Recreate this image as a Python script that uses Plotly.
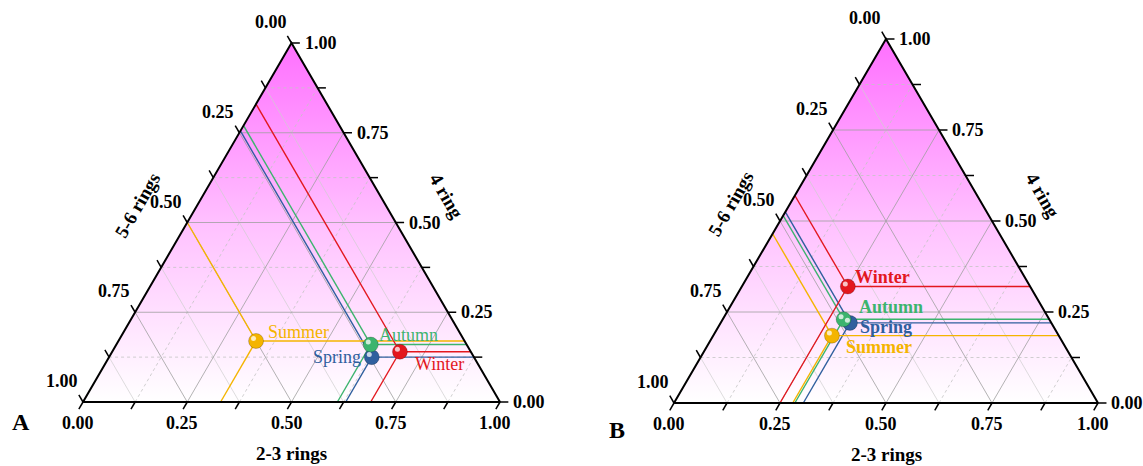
import plotly.graph_objects as go

# ---------------- data ----------------
seasons = ["Spring", "Summer", "Autumn", "Winter"]
season_colors = ["#2F5F9E", "#F4B400", "#3CB46E", "#E3171E"]

# Panel A  (fractions of 4 ring, 2-3 rings, 5-6 rings)
A_ring4 = [0.125, 0.17, 0.16, 0.14]
A_ring23 = [0.63, 0.33, 0.61, 0.69]
A_ring56 = [0.245, 0.50, 0.23, 0.17]

# Panel B
B_ring4 = [0.22, 0.185, 0.23, 0.32]
B_ring23 = [0.305, 0.28, 0.285, 0.25]
B_ring56 = [0.475, 0.535, 0.485, 0.43]

major_ticks = [0.0, 0.25, 0.5, 0.75, 1.0]
major_labels = ["0.00", "0.25", "0.50", "0.75", "1.00"]
minor_ticks = [0.125, 0.375, 0.625, 0.875]

bottom_title = "2-3 rings"
left_title = "5-6 rings"
right_title = "4 ring"

# ---------------- helpers ----------------
W, H = 1143, 466
FONT = "Liberation Serif"


def tern(a, b):
    """a = 4 ring (top vertex), b = 2-3 rings (bottom-right vertex)."""
    return b + a / 2.0, a


def segs_to_xy(segs):
    xs, ys = [], []
    for (a1, b1), (a2, b2) in segs:
        x1, y1 = tern(a1, b1)
        x2, y2 = tern(a2, b2)
        xs += [x1, x2, None]
        ys += [y1, y2, None]
    return xs, ys


fig = go.Figure()

panels = [
    dict(name="A", xa="x", ya="y", r4=A_ring4, r23=A_ring23, r56=A_ring56,
         bl=(83, 402), side=417, height=359, dom=(0, 560), label_bold=False,
         letter_shift=(-62, -20),
         label_pos={"Summer": ("left", 10, 9), "Autumn": ("left", 6, 10),
                    "Spring": ("right", -9, 0), "Winter": ("left", 13, -12)}),
    dict(name="B", xa="x2", ya="y2", r4=B_ring4, r23=B_ring23, r56=B_ring56,
         bl=(674, 403), side=424, height=364, dom=(570, W), label_bold=True,
         letter_shift=(-57, -27),
         label_pos={"Summer": ("left", 12, -11), "Autumn": ("left", 13, 12),
                    "Spring": ("left", 8, -4), "Winter": ("left", 5, 10)}),
]

t = 0.02  # tick length (ternary units)
annotations = []
layout_axes = {}

for i, p in enumerate(panels):
    xa, ya = p["xa"], p["ya"]
    # ---- background gradient ----
    tx, ty = segs_to_xy([((0, 0), (0, 1)), ((0, 1), (1, 0))])
    fig.add_trace(go.Scatter(
        x=[tx[0], tx[1], tx[4], tx[0]], y=[ty[0], ty[1], ty[4], ty[0]],
        mode="lines", line=dict(width=0), fill="toself",
        fillgradient=dict(type="vertical",
                          colorscale=[[0, "#FFFFFF"], [0.5, "#FFC0FF"], [1, "#FF70FF"]]),
        xaxis=xa, yaxis=ya, hoverinfo="skip"))

    # ---- grid ----
    major_grid, minor_dot, minor_solid = [], [], []
    for v in major_ticks[1:-1]:
        major_grid += [((v, 0), (v, 1 - v)), ((0, v), (1 - v, v)), ((0, 1 - v), (1 - v, 0))]
    for v in minor_ticks:
        minor_dot += [((v, 0), (v, 1 - v)), ((0, v), (1 - v, v))]
        minor_solid += [((0, 1 - v), (1 - v, 0))]
    gx, gy = segs_to_xy(minor_dot)
    fig.add_trace(go.Scatter(x=gx, y=gy, mode="lines",
                             line=dict(color="#C4C4C4", width=0.8, dash="dot"),
                             xaxis=xa, yaxis=ya, hoverinfo="skip"))
    gx, gy = segs_to_xy(minor_solid)
    fig.add_trace(go.Scatter(x=gx, y=gy, mode="lines",
                             line=dict(color="#CFCFCF", width=0.7),
                             xaxis=xa, yaxis=ya, hoverinfo="skip"))
    gx, gy = segs_to_xy(major_grid)
    fig.add_trace(go.Scatter(x=gx, y=gy, mode="lines",
                             line=dict(color="#A0A0A0", width=0.8),
                             xaxis=xa, yaxis=ya, hoverinfo="skip"))

    # ---- data guide lines ----
    for s, col, a, b, c in zip(seasons, season_colors, p["r4"], p["r23"], p["r56"]):
        lx, ly = segs_to_xy([((a, b), (a, 1 - a)),      # to right edge (4 ring)
                             ((a, b), (0, b)),          # to bottom (2-3 rings)
                             ((a, b), (1 - c, 0))])     # to left edge (5-6 rings)
        fig.add_trace(go.Scatter(x=lx, y=ly, mode="lines",
                                 line=dict(color=col, width=1.4),
                                 xaxis=xa, yaxis=ya, hoverinfo="skip"))

    # ---- outline ----
    fig.add_trace(go.Scatter(
        x=[tx[0], tx[1], tx[4], tx[0]], y=[ty[0], ty[1], ty[4], ty[0]],
        mode="lines", line=dict(color="black", width=2),
        xaxis=xa, yaxis=ya, hoverinfo="skip"))

    # ---- ticks ----
    tick_segs = []
    for v in major_ticks + minor_ticks:
        tick_segs += [((0, v), (-t, v)),                 # bottom
                      ((v, 1 - v), (v, 1 - v + t)),      # right
                      ((1 - v, 0), (1 - v + t, -t))]     # left
    kx, ky = segs_to_xy(tick_segs)
    fig.add_trace(go.Scatter(x=kx, y=ky, mode="lines",
                             line=dict(color="black", width=1.5),
                             xaxis=xa, yaxis=ya, hoverinfo="skip"))

    # ---- markers ----
    mx = [tern(a, b)[0] for a, b in zip(p["r4"], p["r23"])]
    my = [tern(a, b)[1] for a, b in zip(p["r4"], p["r23"])]
    fig.add_trace(go.Scatter(x=mx, y=my, mode="markers",
                             marker=dict(size=15, color=season_colors,
                                         line=dict(width=0.6, color="rgba(0,0,0,0.35)")),
                             xaxis=xa, yaxis=ya, hoverinfo="skip", cliponaxis=False))
    hx = [x - 0.006 for x in mx]
    hy = [y + 0.007 for y in my]
    fig.add_trace(go.Scatter(x=hx, y=hy, mode="markers",
                             marker=dict(size=5, color="rgba(255,255,255,0.75)"),
                             xaxis=xa, yaxis=ya, hoverinfo="skip", cliponaxis=False))

    # ---- annotations (tick labels, titles, series labels) ----
    tf = dict(family=FONT, size=18, color="black")
    for v, lab in zip(major_ticks, major_labels):
        bx, by = tern(0, v)
        annotations.append(dict(x=bx, y=by, xref=xa, yref=ya, text="<b>%s</b>" % lab,
                                showarrow=False, font=tf, xanchor="center",
                                yanchor="middle", xshift=-5, yshift=-21))
        rx, ry = tern(v, 1 - v)
        annotations.append(dict(x=rx, y=ry, xref=xa, yref=ya, text="<b>%s</b>" % lab,
                                showarrow=False, font=tf, xanchor="left",
                                yanchor="middle", xshift=11, yshift=0))
        lx_, ly_ = tern(1 - v, 0)
        annotations.append(dict(x=lx_, y=ly_, xref=xa, yref=ya, text="<b>%s</b>" % lab,
                                showarrow=False, font=tf, xanchor="center",
                                yanchor="middle", xshift=-21, yshift=21))
    titf = dict(family=FONT, size=19, color="black")
    bx, by = tern(0, 0.5)
    annotations.append(dict(x=bx, y=by, xref=xa, yref=ya, text="<b>%s</b>" % bottom_title,
                            showarrow=False, font=titf, yshift=-51))
    lx_, ly_ = tern(0.5, 0)
    annotations.append(dict(x=lx_, y=ly_, xref=xa, yref=ya, text="<b>%s</b>" % left_title,
                            showarrow=False, font=titf, textangle=-60,
                            xshift=-50, yshift=17))
    rx, ry = tern(0.5, 0.5)
    annotations.append(dict(x=rx, y=ry, xref=xa, yref=ya, text="<b>%s</b>" % right_title,
                            showarrow=False, font=titf, textangle=60,
                            xshift=51, yshift=26))
    ox, oy = tern(0, 0)
    annotations.append(dict(x=ox, y=oy, xref=xa, yref=ya, text="<b>%s</b>" % p["name"],
                            showarrow=False, font=dict(family=FONT, size=24, color="black"),
                            xshift=p["letter_shift"][0], yshift=p["letter_shift"][1]))
    for s, col, x, y in zip(seasons, season_colors, mx, my):
        anc, dx, dy = p["label_pos"][s]
        txt = "<b>%s</b>" % s if p["label_bold"] else s
        annotations.append(dict(x=x, y=y, xref=xa, yref=ya, text=txt, showarrow=False,
                                font=dict(family=FONT, size=18, color=col),
                                xanchor=anc, yanchor="middle", xshift=dx, yshift=dy))

    # ---- axes geometry (pixels -> data ranges) ----
    blx, bly = p["bl"]
    d0, d1 = p["dom"]
    xr = [(d0 - blx) / p["side"], (d1 - blx) / p["side"]]
    yr = [(bly - H) / p["height"], bly / p["height"]]
    key = "" if i == 0 else "2"
    layout_axes["xaxis" + key] = dict(domain=[d0 / W, d1 / W], range=xr,
                                      visible=False, fixedrange=True, anchor="y" + key)
    layout_axes["yaxis" + key] = dict(domain=[0, 1], range=yr, visible=False,
                                      fixedrange=True, anchor="x" + key)

fig.update_layout(
    width=W, height=H, margin=dict(l=0, r=0, t=0, b=0),
    paper_bgcolor="white", plot_bgcolor="rgba(0,0,0,0)",
    showlegend=False, hovermode=False, annotations=annotations,
    **layout_axes)

fig.write_html("out.html",
               config={"displayModeBar": False, "staticPlot": True},
               post_script="document.body.style.margin='0';document.body.style.overflow='hidden';")
